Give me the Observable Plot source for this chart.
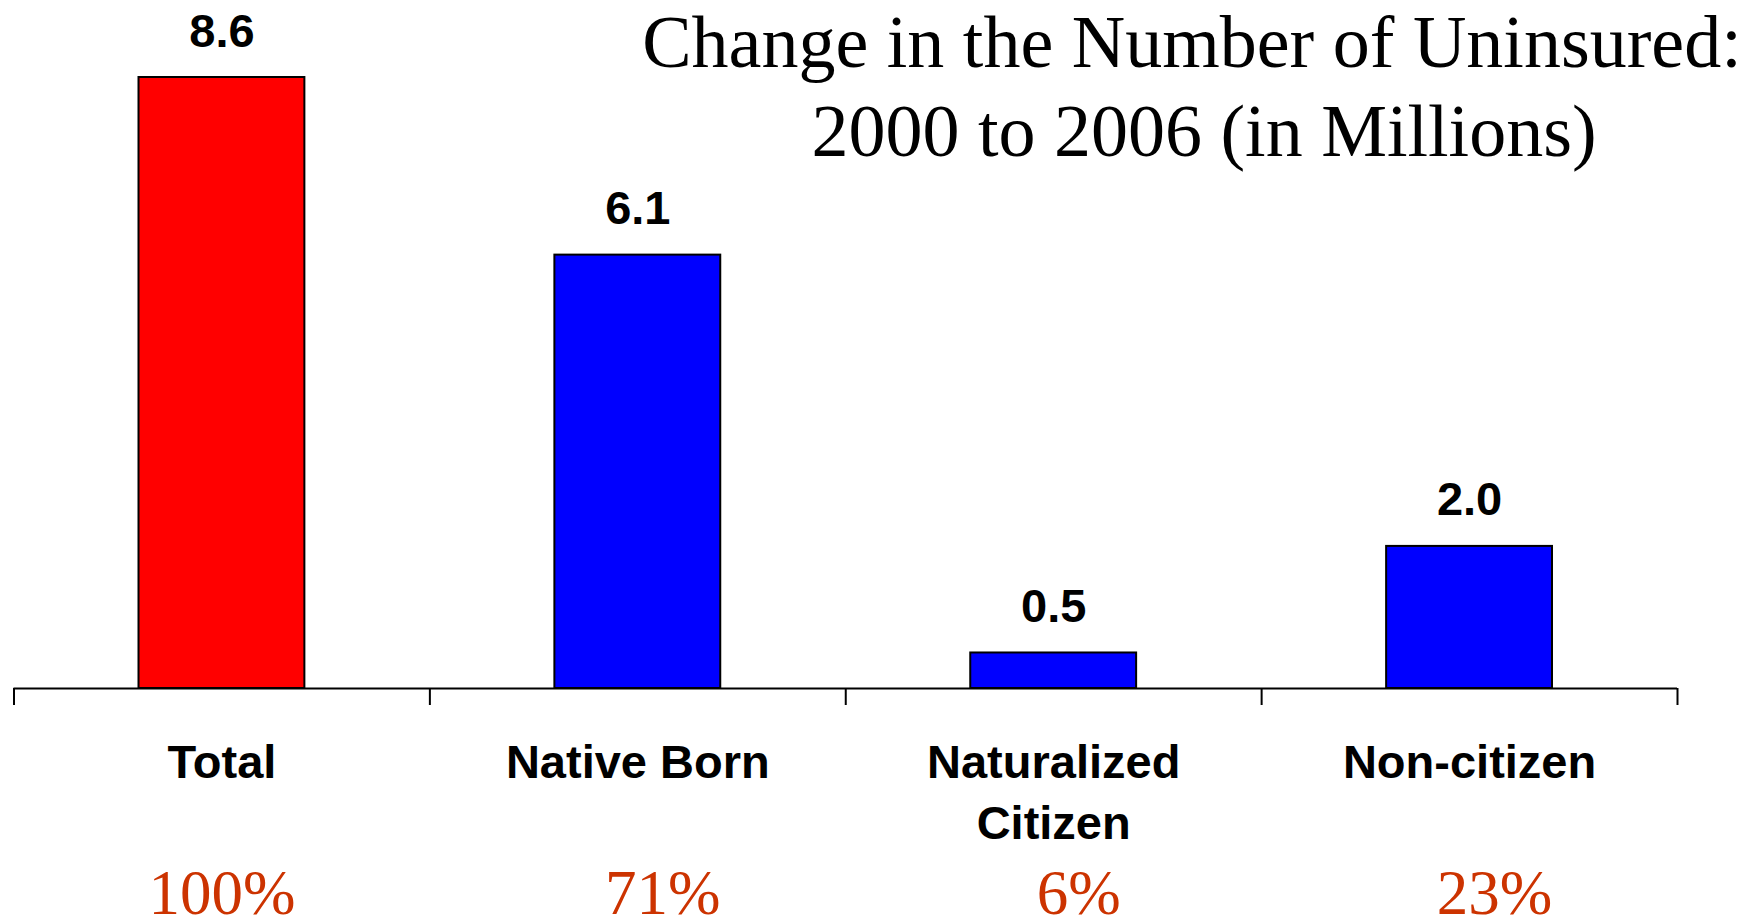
<!DOCTYPE html>
<html><head><meta charset="utf-8">
<script src="https://cdn.jsdelivr.net/npm/d3@7"></script>
<script src="https://cdn.jsdelivr.net/npm/@observablehq/plot@0.6"></script>
<style>
body{margin:0;background:#fff;}
#wrap{position:relative;width:1762px;height:919px;overflow:hidden;background:#fff;}
#wrap svg{position:absolute;left:0;top:0;}
.t{position:absolute;font-family:"Liberation Serif","Times New Roman",serif;font-size:74px;line-height:89px;color:#000;text-align:center;white-space:nowrap;width:1200px;}
</style></head><body>
<div id="wrap"></div>
<script>
const categories = ["Total", "Native Born", "Naturalized\nCitizen", "Non-citizen"];
const values = [8.6, 6.1, 0.5, 2.0];
const valueLabels = ["8.6", "6.1", "0.5", "2.0"];
const shares = ["100%", "71%", "6%", "23%"];
const titleLines = ["Change in the Number of Uninsured:", "2000 to 2006 (in Millions)"];

const data = categories.map((c, i) => ({category: c, index: i, value: values[i], label: valueLabels[i], share: shares[i]}));
const boundaries = d3.range(categories.length + 1);
const shareStyle = {y: 0, text: "share", lineAnchor: "bottom", dy: 225, fontSize: 63,
  fontFamily: "'Liberation Serif', 'Times New Roman', serif", fill: "#cc3300"};

const chart = Plot.plot({
  width: 1762,
  height: 919,
  marginLeft: 13.5,
  marginRight: 85,
  marginTop: 77,
  marginBottom: 231,
  x: {type: "linear", domain: [0, categories.length], axis: null, label: null},
  y: {domain: [0, 8.6], axis: null, label: null},
  style: {fontFamily: "'Liberation Sans', Arial, sans-serif", background: "white", overflow: "visible"},
  marks: [
    Plot.rectY(data, {x1: "index", x2: d => d.index + 1, y: "value",
      fill: d => d.index === 0 ? "#ff0000" : "#0000ff",
      stroke: "black", strokeWidth: 2, insetLeft: 125, insetRight: 125}),
    Plot.ruleY([0], {stroke: "black", strokeWidth: 2}),
    Plot.axisX({ticks: boundaries, tickSize: 17, tickFormat: () => "", label: null, stroke: "black", strokeWidth: 2}),
    Plot.text(data, {x: d => d.index + 0.5, y: "value", text: "label", lineAnchor: "bottom", dy: -31,
      fontSize: 47, fontWeight: "bold", fill: "black"}),
    Plot.text(data, {x: d => d.index + 0.5, y: 0, text: "category", lineAnchor: "top", dy: 46,
      lineHeight: 1.3, fontSize: 47, fontWeight: "bold", fill: "black"}),
    Plot.text(data.filter(d => d.index === 0), {x: d => d.index + 0.5, ...shareStyle}),
    Plot.text(data.filter(d => d.index > 0), {x: d => d.index + 0.5, dx: 25, ...shareStyle})
  ]
});
const wrap = document.getElementById("wrap");
wrap.appendChild(chart);
const lefts = [592, 604];
const tops = [-2, 87];
titleLines.forEach((t, i) => {
  const d = document.createElement("div");
  d.className = "t";
  d.style.left = lefts[i] + "px";
  d.style.top = tops[i] + "px";
  d.textContent = t;
  wrap.appendChild(d);
});
</script>
</body></html>
